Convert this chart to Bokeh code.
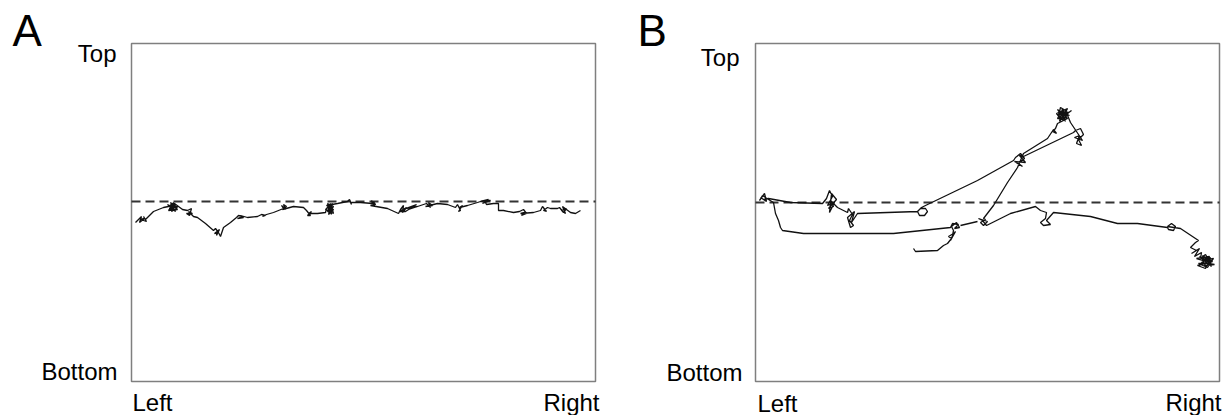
from bokeh.plotting import figure
from bokeh.layouts import row
from bokeh.models import Range1d
from bokeh.core.properties import value
from bokeh.embed import file_html
from bokeh.resources import INLINE

# Arena size in video pixels (x to the right, y downward as in image coordinates)
ARENA_W = 464
ARENA_H = 338
MIDLINE_A = 158
MIDLINE_B = 159

PANEL_LETTERS = ["A", "B"]
Y_LABELS = ["Top", "Bottom"]
X_LABELS = ["Left", "Right"]

# Panel A trajectory (x, y)
A_TRACK = [
    (4, 179), (6, 177), (10, 173), (8, 179), (13, 175), (9, 176), (15, 178), (12, 173), (14, 176),
    (16, 174), (22, 168), (32, 164),
    (37, 163), (41, 160), (39, 166), (44, 162), (40, 168), (45, 165), (42, 159), (38, 165), (43, 167),
    (46, 163), (41, 164), (36, 161), (44, 168), (39, 159), (46, 166), (37, 167), (43, 160),
    (51, 166),
    (56, 167), (60, 165), (58, 172), (55, 170), (61, 170), (57, 168), (62, 173),
    (66, 174), (74, 180), (82, 187),
    (84, 185), (87, 189), (83, 190), (88, 186), (85, 192), (86, 187), (89, 193),
    (92, 184), (99, 179), (105, 174),
    (107, 172), (111, 173), (106, 175), (112, 174), (109, 172),
    (116, 174), (126, 173),
    (130, 171), (134, 172), (131, 173), (135, 171),
    (142, 169), (152, 165),
    (150, 162), (154, 166), (152, 161), (155, 163), (151, 166),
    (162, 163), (172, 164),
    (175, 167), (179, 172), (176, 172), (180, 168), (177, 170),
    (186, 170), (194, 169),
    (195, 165), (199, 161), (197, 169), (202, 163), (196, 160), (200, 171), (198, 164), (201, 167),
    (196, 168), (199, 160), (202, 170), (194, 166), (201, 160), (197, 171), (202, 166), (195, 162),
    (206, 160), (216, 158), (218, 156), (220, 161), (219, 159),
    (229, 159), (241, 160),
    (240, 157), (243, 163), (242, 158), (244, 161), (239, 162),
    (256, 165), (267, 170),
    (269, 166), (272, 162), (271, 169), (275, 164), (268, 168), (274, 168),
    (285, 161), (274, 165), (286, 163), (277, 166),
    (289, 162),
    (295, 160), (299, 164), (297, 159), (301, 162), (294, 163),
    (306, 160), (316, 161), (324, 164),
    (326, 161), (329, 167), (327, 168), (331, 162), (328, 164),
    (336, 162), (346, 159),
    (349, 158), (357, 156), (351, 160), (359, 157), (353, 157), (355, 161),
    (362, 160), (367, 160), (367, 167), (372, 167), (382, 169),
    (388, 168), (392, 166), (395, 170), (390, 172), (393, 169), (389, 170),
    (402, 169), (409, 167),
    (411, 163), (415, 168), (412, 167), (416, 164),
    (419, 165), (426, 165),
    (428, 164), (432, 169), (435, 165), (430, 167), (434, 170), (431, 163),
    (439, 169), (444, 170), (449, 167),
]

# Panel B trajectory, main path
B_TRACK = [
    (158, 205), (160, 208), (182, 207), (188, 202),
    (192, 200), (196, 195), (193, 193), (198, 190), (195, 197), (200, 188), (197, 192),
    (198, 187),
    (196, 183), (201, 179), (204, 184), (199, 185), (203, 181), (197, 180),
    (195, 184), (138, 190), (48, 190), (27, 187), (25, 184), (23, 177), (20, 170), (18, 159),
    (13, 156), (7, 152), (4, 157), (9, 150), (11, 158), (5, 154), (8, 156),
    (13, 155), (35, 159), (67, 160),
    (71, 155), (74, 147), (77, 153), (72, 162), (79, 159), (74, 169), (76, 150), (81, 156), (73, 165),
    (78, 163), (75, 157),
    (82, 164), (92, 169),
    (93, 165), (97, 171), (94, 177), (98, 182), (95, 184), (92, 174), (99, 168), (96, 179), (100, 173),
    (102, 170), (162, 168),
    (164, 172), (169, 172), (172, 168), (170, 165), (165, 165), (162, 168), (166, 164),
    (170, 162), (222, 137), (258, 117),
    (260, 114), (265, 110), (269, 115), (263, 120), (267, 123), (259, 118), (270, 119), (264, 112),
    (268, 113), (318, 89),
    (320, 87), (325, 85), (328, 91), (323, 96), (326, 102), (321, 100), (324, 92), (319, 94), (327, 97),
    (321, 88), (315, 79),
    (310, 67), (305, 64), (303, 72), (308, 77), (313, 69), (306, 68), (302, 75), (311, 74), (307, 65),
    (304, 78), (309, 71), (312, 65), (301, 70), (305, 75), (316, 67), (308, 73), (303, 67),
    (314, 72), (304, 69), (310, 78), (302, 66), (312, 75),
    (302, 80),
    (300, 85), (297, 88), (301, 90), (298, 86),
    (292, 95), (268, 110),
    (262, 124), (252, 139), (238, 162), (228, 175),
    (230, 176), (225, 179), (228, 182), (232, 178), (223, 175), (227, 177), (231, 182),
    (255, 170), (280, 163),
    (285, 167), (291, 169), (290, 175), (285, 179), (288, 182), (295, 181), (291, 177), (298, 169),
    (335, 173), (362, 180), (382, 180), (412, 184),
    (413, 186), (418, 187), (420, 183), (416, 180), (412, 183),
    (425, 185), (443, 197),
    (440, 199), (435, 204), (441, 207), (436, 210), (444, 205), (439, 213), (446, 209),
    (445, 215), (450, 211), (455, 219), (443, 220), (452, 224), (458, 215), (448, 217), (441, 215),
    (454, 213), (449, 222), (459, 221), (446, 219), (451, 216), (456, 223), (444, 213), (453, 218),
    (447, 212), (457, 218), (442, 222), (450, 225), (455, 214), (445, 220),
]

# Panel B, short connecting stretch along the lower path
B_LINK = [(205, 182), (222, 178)]

FONT = "Liberation Sans"


def make_panel(letter, tracks, midline, width, border_right, lab):
    # the figure's frame covers the whole panel; 1 data unit = 1 screen pixel
    p = figure(width=width, height=415,
               min_border_left=0, min_border_right=0, min_border_top=0, min_border_bottom=0,
               x_range=Range1d(-131, ARENA_W + border_right),
               y_range=Range1d(ARENA_H + 34, -43),
               x_axis_location=None, y_axis_location=None,
               toolbar_location=None, output_backend="svg")
    p.grid.visible = False
    p.outline_line_color = None
    p.background_fill_color = "white"
    p.border_fill_color = "white"

    # arena outline
    p.quad(left=[0], right=[ARENA_W], top=[0], bottom=[ARENA_H],
           fill_color=None, line_color="#7f7f7f", line_width=1.5)
    # midline
    p.segment(x0=[0], x1=[ARENA_W], y0=[midline], y1=[midline],
              line_color="#333333", line_width=1.8, line_dash="9 5")
    for tr in tracks:
        xs, ys = zip(*tr)
        p.line(list(xs), list(ys), line_color="#111111", line_width=1.3)

    def txt(text, pos, align, size):
        p.text(x=[pos[0]], y=[pos[1]], text=[text], text_align=align,
               text_baseline="alphabetic", text_font=value(FONT),
               text_font_size=size, text_color="black")

    txt(letter, lab["letter"], "left", "44px")
    txt(Y_LABELS[0], lab["top"], "right", "24px")
    txt(Y_LABELS[1], lab["bottom"], "right", "24px")
    txt(X_LABELS[0], lab["left"], "left", "24px")
    txt(X_LABELS[1], lab["right"], "right", "24px")
    return p


pa = make_panel(PANEL_LETTERS[0], [A_TRACK], MIDLINE_A, 624, 29,
                dict(letter=(-119, -13), top=(-15, 10), bottom=(-14, 328),
                     left=(1, 359), right=(468, 358.5)))
pb = make_panel(PANEL_LETTERS[1], [B_TRACK, B_LINK], MIDLINE_B, 606, 11,
                dict(letter=(-118, -13), top=(-16, 13.5), bottom=(-13, 329),
                     left=(2, 359.5), right=(466, 359)))

layout = row(pa, pb, spacing=0)
open("out.html", "w").write(file_html(layout, INLINE))
